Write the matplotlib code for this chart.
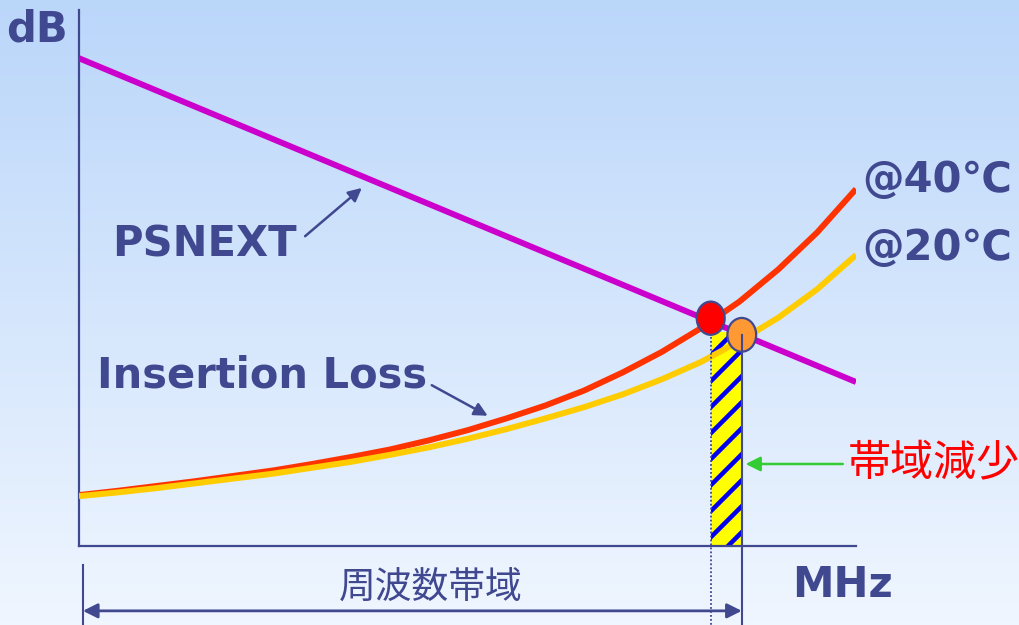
import numpy as np
import matplotlib
matplotlib.use("Agg")
import matplotlib.pyplot as plt
from matplotlib.patches import Ellipse

DPI = 78
K = 100.0 / DPI   # keeps pixel sizes as designed for 100 dpi


def pt(v):
    return v * K


plt.rcParams['font.family'] = ['DejaVu Sans', 'Noto Sans CJK JP']
plt.rcParams['hatch.linewidth'] = 4.2
plt.rcParams['hatch.color'] = '#0000ee'

# ---- data (frequency in relative MHz units, level in relative dB) ----
psnext_freq = [0, 100]
psnext_db = [91.0, 30.6]

il40_freq = [0, 5, 10, 15, 20, 25, 30, 35, 40, 45, 50, 55, 60, 65, 70, 75, 80, 85, 90, 95, 100]
il40_db = [9.5, 10.3, 11.2, 12.1, 13.1, 14.1, 15.3, 16.6, 18.0, 19.7, 21.6, 23.8, 26.2,
           29.0, 32.4, 36.2, 40.6, 45.6, 51.6, 58.5, 66.6]

il20_freq = [0, 5, 10, 15, 20, 25, 30, 35, 40, 45, 50, 55, 60, 65, 70, 75, 80, 85, 90, 95, 100]
il20_db = [9.3, 10.0, 10.8, 11.7, 12.6, 13.5, 14.6, 15.7, 17.0, 18.4, 20.0, 21.8, 23.8,
           25.9, 28.3, 31.1, 34.3, 38.2, 42.6, 47.9, 54.3]

cross_freq = [81.3, 85.3]      # 40C crossing, 20C crossing
cross_db = [42.5, 39.4]
band_top_db = 40.0

labels_temp = ['@40℃', '@20℃']

C_TXT = '#404890'

W, H = 1019, 625
fig = plt.figure(figsize=(W / DPI, H / DPI), dpi=DPI)

# background gradient
bg = fig.add_axes([0, 0, 1, 1], zorder=-10)
top = np.array([0.73, 0.84, 0.98])
bot = np.array([0.94, 0.965, 1.0])
t = np.linspace(0, 1, 256)[:, None]
grad = top[None, :] * (1 - t) + bot[None, :] * t
bg.imshow(grad[:, None, :], aspect='auto', extent=[0, 1, 0, 1])
bg.set_axis_off()

# main axes in pixel layout
x0, x1, ytop, ybot = 79, 856, 10, 546
ax = fig.add_axes([x0 / W, (H - ybot) / H, (x1 - x0) / W, (ybot - ytop) / H])
ax.set_xlim(0, 100)
ax.set_ylim(0, 100)
ax.patch.set_alpha(0)
for s in ['top', 'right']:
    ax.spines[s].set_visible(False)
for s in ['left', 'bottom']:
    ax.spines[s].set_color(C_TXT)
    ax.spines[s].set_linewidth(pt(1.6))
ax.set_xticks([])
ax.set_yticks([])

# hatched band
ax.bar([cross_freq[0]], [band_top_db], width=cross_freq[1] - cross_freq[0], align='edge',
       color='#ffff00', edgecolor='#0000ee', hatch='/', linewidth=0, zorder=2)

# curves
LW = pt(4.3)
ax.plot(psnext_freq, psnext_db, color='#cc00cc', lw=LW, solid_capstyle='butt', zorder=3)
ax.plot(il40_freq, il40_db, color='#ff3300', lw=LW, solid_capstyle='butt', zorder=3)
ax.plot(il20_freq, il20_db, color='#ffcc00', lw=LW, solid_capstyle='butt', zorder=3)

# vertical guide lines
ax.plot([cross_freq[0]] * 2, [cross_db[0] - 2, -14.7], color=C_TXT, lw=pt(1.3),
        ls=(0, (1, 1.2)), clip_on=False, zorder=4)
# crossing markers
ax.add_patch(Ellipse((cross_freq[0], cross_db[0]), 3.6, 6.2, facecolor='#ff0000',
                     edgecolor=C_TXT, lw=pt(1.6), zorder=5))
ax.add_patch(Ellipse((cross_freq[1], cross_db[1]), 3.7, 6.3, facecolor='#ff9933',
                     edgecolor=C_TXT, lw=pt(1.6), zorder=5))
ax.plot([cross_freq[1]] * 2, [cross_db[1], -14.7], color=C_TXT, lw=pt(1.5), clip_on=False,
        zorder=6)

# left tick below axis
ax.plot([0.5, 0.5], [-3.5, -14.7], color=C_TXT, lw=pt(1.5), clip_on=False)
# double arrow for frequency band
ax.annotate('', xy=(0.5, -12.1), xytext=(cross_freq[1], -12.1),
            arrowprops=dict(arrowstyle='<|-|>', color=C_TXT, lw=pt(2), mutation_scale=pt(22),
                            shrinkA=0, shrinkB=0), annotation_clip=False)

# labels
bold = dict(color=C_TXT, fontweight='bold', fontsize=pt(30))
ax.text(-5.4, 96.3, 'dB', ha='center', va='center', clip_on=False, **bold)
ax.text(16.1, 56.3, 'PSNEXT', ha='center', va='center', **bold)
ax.text(23.6, 31.9, 'Insertion Loss', ha='center', va='center', **bold)
ax.text(100.8, 68.3, labels_temp[0], ha='left', va='center', clip_on=False, **bold)
ax.text(100.8, 55.6, labels_temp[1], ha='left', va='center', clip_on=False, **bold)
ax.text(98.2, -7.3, 'MHz', ha='center', va='center', clip_on=False, **bold)
ax.text(45.3, -7.8, '周波数帯域', ha='center', va='center', color=C_TXT, fontsize=pt(26.5),
        family=['Noto Sans CJK JP'], clip_on=False)
ax.text(99.0, 15.5, '帯域減少', ha='left', va='center', color='#ff0000', fontsize=pt(31),
        family=['Noto Sans CJK JP'], clip_on=False)

# pointer arrows
ax.annotate('', xy=(36.4, 66.8), xytext=(29.1, 57.8),
            arrowprops=dict(arrowstyle='-|>', color=C_TXT, lw=pt(1.8), mutation_scale=pt(20),
                            shrinkA=0, shrinkB=0))
ax.annotate('', xy=(52.6, 24.3), xytext=(45.4, 30.0),
            arrowprops=dict(arrowstyle='-|>', color=C_TXT, lw=pt(1.8), mutation_scale=pt(20),
                            shrinkA=0, shrinkB=0))
ax.annotate('', xy=(85.8, 15.3), xytext=(98.3, 15.3),
            arrowprops=dict(arrowstyle='-|>', color='#33cc33', lw=pt(1.8), mutation_scale=pt(22),
                            shrinkA=0, shrinkB=0), annotation_clip=False)

fig.savefig('out.png', dpi=DPI)
